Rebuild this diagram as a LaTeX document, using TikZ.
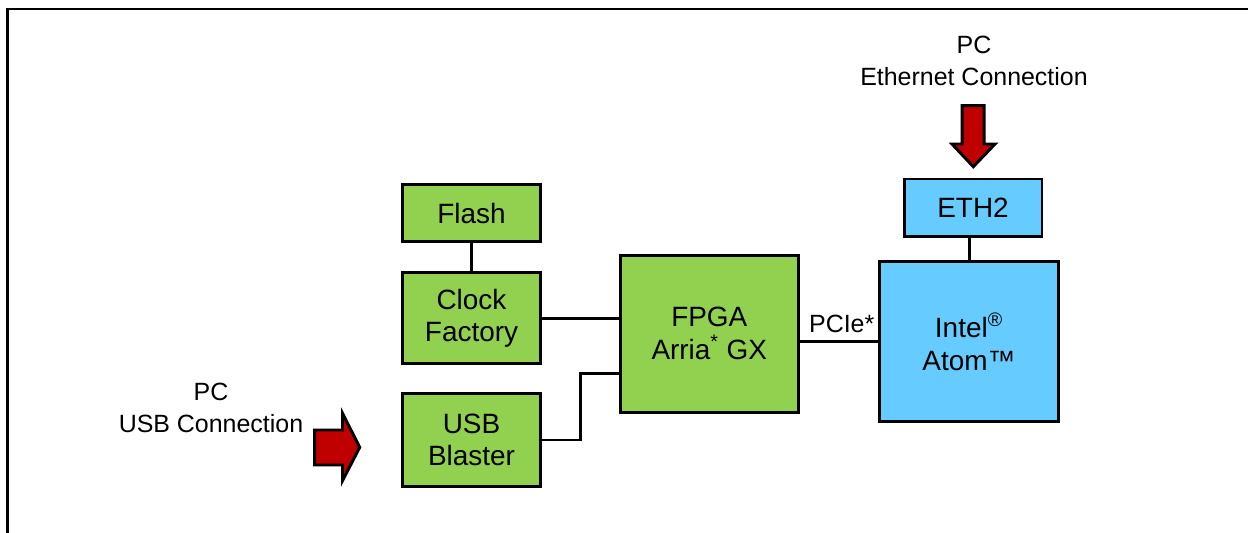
\documentclass[tikz,border=0pt]{standalone}
\usepackage{fontspec}
\setmainfont{Liberation Sans}
\definecolor{boardgreen}{HTML}{92D050}
\definecolor{atomblue}{HTML}{66CCFF}
\definecolor{arrowred}{HTML}{C00000}
\begin{document}
\begin{tikzpicture}[x=0.02cm,y=-0.02cm,
    font=\fontsize{14.2}{18.2}\selectfont,
    blk/.style={draw,line width=1.7pt,align=center,inner sep=0pt,
      font=\fontsize{15.9}{18.6}\selectfont},
    greenblk/.style={blk,fill=boardgreen},
    blueblk/.style={blk,fill=atomblue},
    wire/.style={line width=1.7pt},
    bigarrow/.style={draw,line width=1.7pt,fill=arrowred,line join=miter}]
    \useasboundingbox (0,0) rectangle (1248,533);
    \draw[line width=1.4pt] (1248,9) -- (7.5,9) -- (7.5,533);
    % board blocks
    \node[greenblk,minimum width=2.76cm,minimum height=1.14cm] (flash) at (471.5,213.3) {Flash};
    \node[greenblk,minimum width=2.76cm,minimum height=1.82cm] (clock) at (471.5,318.3) {Clock\\Factory};
    \node[greenblk,minimum width=2.76cm,minimum height=1.86cm] (usb) at (471.5,440) {USB\\Blaster};
    \node[greenblk,minimum width=3.56cm,minimum height=3.14cm] (fpga) at (709.3,333.7) {FPGA\\Arria\textsuperscript{*} GX};
    \node[blueblk,minimum width=3.6cm,minimum height=3.2cm] (atom) at (969,341.7) {Intel\textsuperscript{®}\\Atom™};
    \node[blueblk,minimum width=2.76cm,minimum height=1.16cm] (eth) at (973,208) {ETH2};
    % links
    \draw[wire] (flash) -- (clock);
    \draw[wire] (clock.east) -- (clock.east -| fpga.west);
    \draw[wire] (usb.east) -- ++(38.5,0) |- ([yshift=0.8cm]fpga.south west);
    \draw[wire] (fpga.east |- atom) -- node[pos=1,anchor=south east,inner xsep=1pt,inner ysep=4.5pt] (pcie) {PCIe*} (atom);
    \draw[wire] (atom.north) -- (atom.north |- eth.south);
    % PC connections
    \node[align=center] (ethpc) at (974,61) {PC\\Ethernet Connection};
    \node[align=center] (usbpc) at (211,408) {PC\\USB Connection};
    \draw[bigarrow] (962,105.7) -- (984,105.7) -- (984,144) -- (995,144) -- (973.3,166.7) -- (952,144) -- (962,144) -- cycle;
    \draw[bigarrow] (314.6,430) -- (342.5,430) -- (342.5,413.3) -- (359.7,447.3) -- (342.5,480.7) -- (342.5,465) -- (314.6,465) -- cycle;
\end{tikzpicture}
\end{document}
